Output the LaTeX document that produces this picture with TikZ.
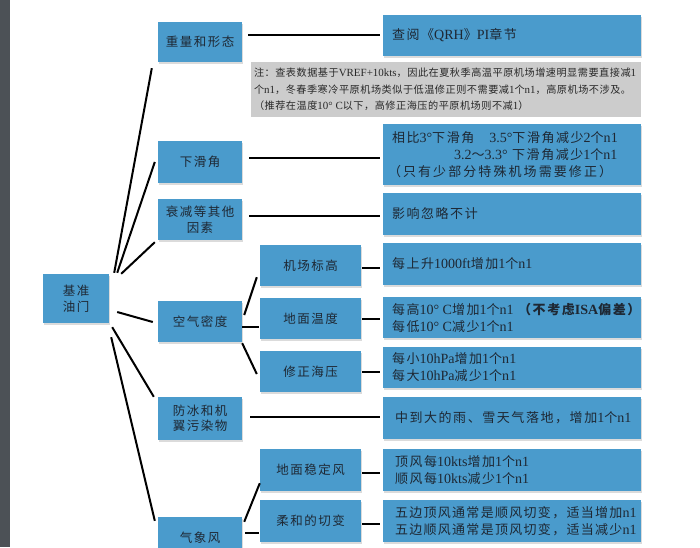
\documentclass[tikz,border=0pt]{standalone}
\usepackage{fontspec}
\setmainfont{Noto Sans CJK SC}
\newfontfamily\cjk[LetterSpace=12]{Noto Sans CJK SC}
\newfontfamily\cjkwide[LetterSpace=10]{Noto Sans CJK SC}
\newfontfamily\cjkparen[LetterSpace=16]{Noto Sans CJK SC}
\newfontfamily\cjknote[LetterSpace=5]{Noto Sans CJK SC}
\newfontfamily\latn[Scale=1.08]{Liberation Serif}
\newcommand\lt[1]{{\latn #1}}
\usetikzlibrary{shadows}
\definecolor{boxblue}{RGB}{74,155,204}
\definecolor{txt}{RGB}{30,40,52}
\definecolor{notegray}{RGB}{204,204,204}
\definecolor{notetxt}{RGB}{40,40,40}
\definecolor{stripgray}{RGB}{76,81,86}
\tikzset{
  shad/.style={drop shadow={shadow xshift=1.2pt,shadow yshift=-1.6pt,opacity=0.28}},
  bx/.style={fill=boxblue, inner sep=0pt, text=txt, shad,
    font=\cjk\fontsize{12.5}{15.5}\selectfont, align=center},
  lbox/.style={bx, minimum width=84pt, minimum height=#1},
  sbox/.style={bx, minimum width=101pt, minimum height=#1},
  dbox/.style={bx, minimum width=258pt, minimum height=#1},
  dtext/.style={anchor=west, inner sep=0pt, text=txt, align=left,
    font=\cjk\fontsize{13}{17}\selectfont},
  conn/.style={draw=black, line width=2pt},
}
\newcommand\hlink[4]{%
  \coordinate (tmp) at ([shift={(#3,#4)}]#1.east);
  \draw[conn] (tmp) -- ([xshift=-3pt]#2.west |- tmp);}
\begin{document}
\begin{tikzpicture}[x=1pt,y=-1pt]
\clip (0,0) rectangle (700,547);
\fill[white] (0,0) rectangle (700,547);
\fill[stripgray] (0,0) rectangle (10,547);

% level 0
\node[bx, minimum width=66pt, minimum height=49pt] (root) at (76,298.5) {基准\\油门};

% level 1
\node[lbox=40pt] (weight) at (200,42) {重量和形态};
\node[lbox=42pt] (glide) at (200,162) {下滑角};
\node[lbox=41pt] (other) at (200,219.5) {衰减等其他\\因素};
\node[lbox=41pt] (air) at (200,321.5) {空气密度};
\node[lbox=43pt] (ice) at (200,418.5) {防冰和机\\翼污染物};
\node[lbox=42pt] (wind) at (200,538) {气象风};

% level 2
\node[sbox=41pt] (elev) at (310.5,265.5) {机场标高};
\node[sbox=41pt] (temp) at (310.5,318.5) {地面温度};
\node[sbox=41pt] (qnh) at (310.5,371.5) {修正海压};
\node[sbox=42pt] (steady) at (310.5,470) {地面稳定风};
\node[sbox=42pt] (shear) at (310.5,521) {柔和的切变};

% detail boxes
\node[dbox=41pt] (dQRH) at (512,35.5) {};
\node[fill=notegray, minimum width=390pt, minimum height=55pt, inner sep=0pt] (note) at (446,89.5) {};
\node[dbox=61pt] (dGlide) at (512,154.5) {};
\node[dbox=42pt] (dOther) at (512,214) {};
\node[dbox=42pt] (dElev) at (512,264) {};
\node[dbox=41pt] (dTemp) at (512,317.5) {};
\node[dbox=41pt] (dQnh) at (512,367.5) {};
\node[dbox=42pt] (dIce) at (512,418) {};
\node[dbox=42pt] (dSteady) at (512,470) {};
\node[dbox=42pt] (dShear) at (512,521) {};

% detail texts
\node[dtext] (tQRH) at ([shift={(9,0)}]dQRH.west) {查阅《\lt{QRH}》\lt{PI}章节};
\node[anchor=west, inner sep=0pt, text=notetxt, align=left,
  font=\cjknote\fontsize{10.15}{16.5}\selectfont] (tNote) at ([shift={(3,0)}]note.west)
  {注：查表数据基于\lt{VREF+10kts}，因此在夏秋季高温平原机场增速明显需要直接减\lt{1}\\
   个\lt{n1}，冬春季寒冷平原机场类似于低温修正则不需要减\lt{1}个\lt{n1}，高原机场不涉及。\\
   （推荐在温度\lt{10° C}以下，高修正海压的平原机场则不减\lt{1}）};
\node[dtext] (tGlide) at ([shift={(9,0)}]dGlide.west)
  {相比\lt{3°}下滑角\hspace{15pt}\lt{3.5°}下滑角减少\lt{2}个\lt{n1}\\
   \hspace{62pt}\lt{3.2}～\lt{3.3°} 下滑角减少\lt{1}个\lt{n1}\\
   \hspace{-4pt}{\cjkparen （只有少部分特殊机场需要修正）}};
\node[dtext] (tOther) at ([shift={(9,0)}]dOther.west) {影响忽略不计};
\node[dtext] (tElev) at ([shift={(9,0)}]dElev.west) {每上升\lt{1000ft}增加\lt{1}个\lt{n1}};
\node[dtext] (tTemp) at ([shift={(9,0)}]dTemp.west)
  {每高\lt{10° C}增加\lt{1}个\lt{n1} {\bfseries （不考虑\lt{ISA}偏差）}\\
   每低\lt{10° C}减少\lt{1}个\lt{n1}};
\node[dtext] (tQnh) at ([shift={(9,0)}]dQnh.west)
  {每小\lt{10hPa}增加\lt{1}个\lt{n1}\\每大\lt{10hPa}减少\lt{1}个\lt{n1}};
\node[dtext] (tIce) at ([shift={(12,0)}]dIce.west) {中到大的雨、雪天气落地，增加\lt{1}个\lt{n1}};
\node[dtext] (tSteady) at ([shift={(12,0)}]dSteady.west)
  {顶风每\lt{10kts}增加\lt{1}个\lt{n1}\\顺风每\lt{10kts}减少\lt{1}个\lt{n1}};
\node[dtext, font=\cjkwide\fontsize{13}{17}\selectfont] (tShear) at ([shift={(12,0)}]dShear.west)
  {五边顶风通常是顺风切变，适当增加\lt{n1}\\五边顺风通常是顶风切变，适当减少\lt{n1}};

% root connectors
\draw[conn] ([shift={(5,-1)}]root.north east) -- ([shift={(-6,6)}]weight.south west);
\draw[conn] ([shift={(8,-1)}]root.north east) -- ([shift={(-3,0)}]glide.west);
\draw[conn] ([shift={(12,0)}]root.north east) -- ([shift={(-3,2)}]other.south west);
\draw[conn] ([shift={(8,13.5)}]root.east) -- ([shift={(-5,0.5)}]air.west);
\draw[conn] ([shift={(3,4)}]root.south east) -- ([shift={(-4,0)}]ice.north west);
\draw[conn] ([shift={(2,14)}]root.south east) -- ([shift={(-3,4)}]wind.north west);

% air density connectors
\draw[conn] ([shift={(2,-6.5)}]air.east) -- ([shift={(-3,-9)}]elev.south west);
\coordinate (a2) at ([shift={(0,5.5)}]air.east);
\draw[conn] (a2) -- ([xshift=-1pt]temp.west |- a2);
\draw[conn] ([shift={(0,1)}]air.south east) -- ([shift={(-3,2.5)}]qnh.west);

% wind connectors
\draw[conn] ([shift={(2,5)}]wind.north east) -- ([shift={(0,-8)}]steady.south west);
\coordinate (w2) at ([shift={(3,-5)}]wind.east);
\draw[conn] (w2) -- ([xshift=-1pt]shear.west |- w2);

% horizontal links to details
\hlink{weight}{dQRH}{6}{-7}
\hlink{glide}{dGlide}{7}{-4}
\hlink{other}{dOther}{7}{-3.5}
\hlink{ice}{dIce}{8}{-1.5}
\hlink{elev}{dElev}{1}{2.5}
\hlink{temp}{dTemp}{1}{0.5}
\hlink{qnh}{dQnh}{1}{0.5}
\hlink{steady}{dSteady}{1}{3}
\hlink{shear}{dShear}{1}{3}
\end{tikzpicture}
\end{document}
